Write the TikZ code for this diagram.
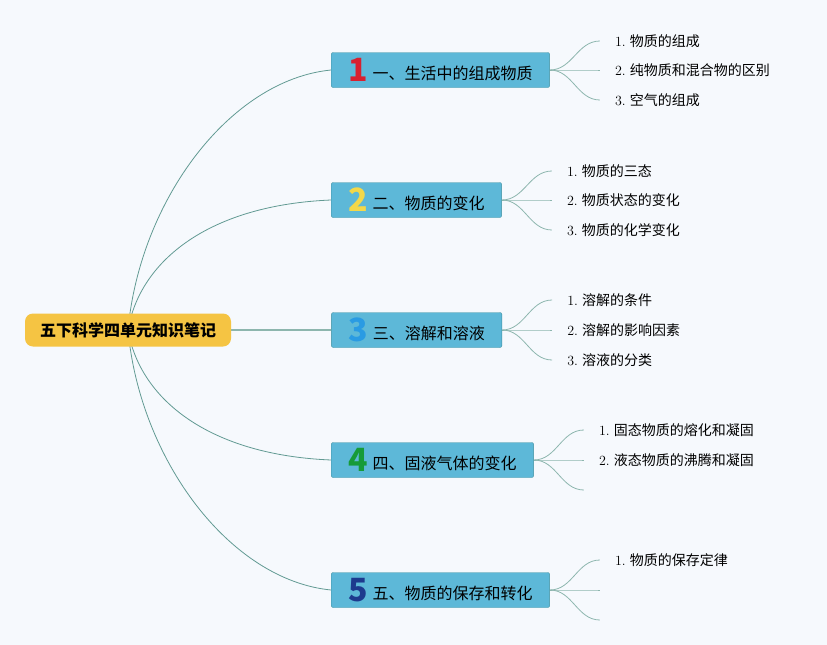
\documentclass[tikz,border=0pt]{standalone}
\usepackage{fontspec}
\newfontfamily\cjk{Noto Sans CJK SC}
\usetikzlibrary{positioning,backgrounds}

\definecolor{bgcol}{HTML}{F6F9FD}
\definecolor{rootfill}{HTML}{F5C443}
\definecolor{boxfill}{HTML}{5DB8D8}
\definecolor{boxline}{HTML}{3E90A0}
\definecolor{linecol}{HTML}{629A93}
\definecolor{twigcol}{HTML}{8DB6AE}
\definecolor{nred}{HTML}{D8202F}
\definecolor{nyellow}{HTML}{F3D84A}
\definecolor{nblue}{HTML}{2A9BE3}
\definecolor{ngreen}{HTML}{169B38}
\definecolor{nnavy}{HTML}{1D3A8E}

\tikzset{
  root/.style={fill=rootfill, rounded corners=8pt, minimum width=206pt, minimum height=33pt,
    font=\cjk\bfseries\fontsize{16}{16}\selectfont},
  topic/.style={draw=boxline, fill=boxfill, rounded corners=2pt, minimum height=35pt,
    inner xsep=17pt, anchor=west, font=\cjk\fontsize{16}{16}\selectfont},
  leaf/.style={anchor=west, inner xsep=15pt, font=\cjk\fontsize{14}{14}\selectfont},
  branch/.style={draw=linecol, line width=0.8pt},
  twig/.style={draw=twigcol, line width=0.8pt},
}
\newcommand{\bignum}[2]{\raisebox{-2pt}{\cjk\bfseries\fontsize{32}{32}\selectfont\color{#1}#2}\hspace{5pt}}

\begin{document}
\begin{tikzpicture}[x=1pt, y=1pt]
  \useasboundingbox (0,0) rectangle (827,-645);
  % centre and the five topics
  \node[root] (root) at (128,-330) {五下科学四单元知识笔记};
  \node[topic] (b1) at (331,-70)  {\bignum{nred}{1}一、生活中的组成物质};
  \node[topic] (b2) at (331,-200) {\bignum{nyellow}{2}二、物质的变化};
  \node[topic] (b3) [right=100pt of root] {\bignum{nblue}{3}三、溶解和溶液};
  \node[topic] (b4) at (331,-460) {\bignum{ngreen}{4}四、固液气体的变化};
  \node[topic] (b5) at (331,-590) {\bignum{nnavy}{5}五、物质的保存和转化};

  % leaves
  \node[leaf] (l11) [right=50pt of b1.east, yshift=29pt]  {{\rmfamily 1.} 物质的组成};
  \node[leaf] (l12) [right=50pt of b1.east]               {{\rmfamily 2.} 纯物质和混合物的区别};
  \node[leaf] (l13) [right=50pt of b1.east, yshift=-30pt] {{\rmfamily 3.} 空气的组成};
  \node[leaf] (l21) [right=50pt of b2.east, yshift=29pt]  {{\rmfamily 1.} 物质的三态};
  \node[leaf] (l22) [right=50pt of b2.east]               {{\rmfamily 2.} 物质状态的变化};
  \node[leaf] (l23) [right=50pt of b2.east, yshift=-30pt] {{\rmfamily 3.} 物质的化学变化};
  \node[leaf] (l31) [right=50pt of b3.east, yshift=30pt]  {{\rmfamily 1.} 溶解的条件};
  \node[leaf] (l32) [right=50pt of b3.east]               {{\rmfamily 2.} 溶解的影响因素};
  \node[leaf] (l33) [right=50pt of b3.east, yshift=-30pt] {{\rmfamily 3.} 溶液的分类};
  \node[leaf] (l41) [right=50pt of b4.east, yshift=30pt]  {{\rmfamily 1.} 固态物质的熔化和凝固};
  \node[leaf] (l42) [right=50pt of b4.east]               {{\rmfamily 2.} 液态物质的沸腾和凝固};
  \coordinate (l43) at ([shift={(50,-30)}]b4.east);
  \node[leaf] (l51) [right=50pt of b5.east, yshift=30pt]  {{\rmfamily 1.} 物质的保存定律};
  \coordinate (l52) at ([shift={(50,0)}]b5.east);
  \coordinate (l53) at ([shift={(50,-30)}]b5.east);

  \begin{scope}[on background layer]
    \fill[bgcol] (0,0) rectangle (827,-645);
    \draw[branch] (root.center) .. controls +(12,130) and +(-101,-10) .. (b1.west);
    \draw[branch] (root.center) .. controls +(12,70) and +(-121,-5) .. (b2.west);
    \draw[twig, line width=1.4pt] (root.east) -- (b3.west);
    \draw[branch] (root.center) .. controls +(12,-70) and +(-121,5) .. (b4.west);
    \draw[branch] (root.center) .. controls +(12,-130) and +(-101,10) .. (b5.west);
    \foreach \b/\l in {b1/l11,b1/l12,b1/l13,b2/l21,b2/l22,b2/l23,b3/l31,b3/l32,b3/l33,
                       b4/l41,b4/l42,b4/l43,b5/l51,b5/l52,b5/l53}
      \draw[twig] (\b.east) to[out=0, in=180] (\l.west);
  \end{scope}
\end{tikzpicture}
\end{document}
